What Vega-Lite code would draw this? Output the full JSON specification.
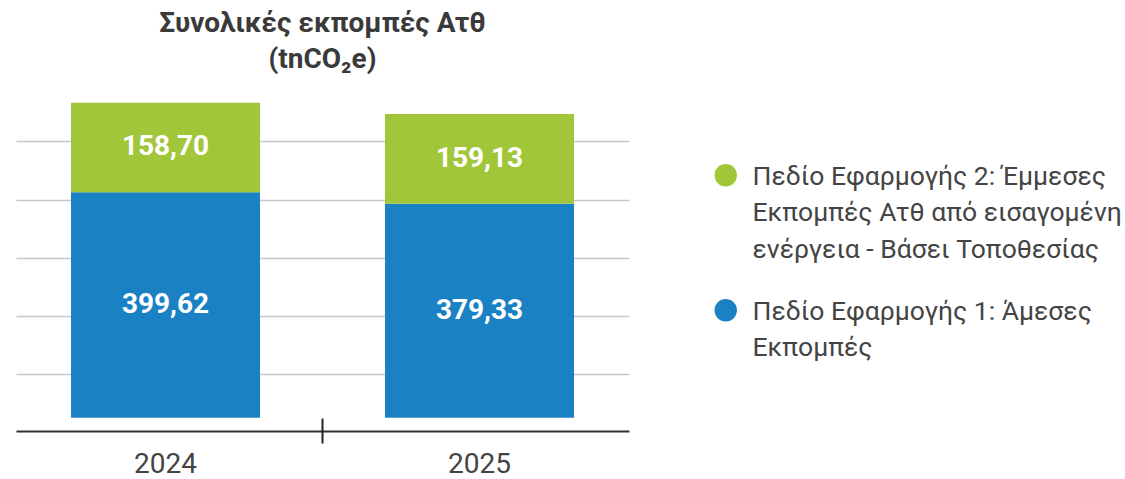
{
  "$schema": "https://vega.github.io/schema/vega-lite/v6.json",
  "autosize": "none",
  "width": 613,
  "height": 349,
  "padding": {"left": 16, "top": 82, "right": 496, "bottom": 48},
  "background": "white",
  "title": {
    "text": ["Συνολικές εκπομπές Ατθ", "(tnCO₂e)"],
    "anchor": "middle",
    "frame": "group",
    "font": "Roboto",
    "fontSize": 28,
    "fontWeight": "bold",
    "color": "#3a3a3a",
    "lineHeight": 36,
    "offset": 8
  },
  "data": {
    "values": [
      {"year": "2024", "series": "Πεδίο Εφαρμογής 1: Άμεσες\nΕκπομπές", "value": 399.62},
      {"year": "2024", "series": "Πεδίο Εφαρμογής 2: Έμμεσες\nΕκπομπές Ατθ από εισαγομένη\nενέργεια - Βάσει Τοποθεσίας", "value": 158.70},
      {"year": "2025", "series": "Πεδίο Εφαρμογής 1: Άμεσες\nΕκπομπές", "value": 379.33},
      {"year": "2025", "series": "Πεδίο Εφαρμογής 2: Έμμεσες\nΕκπομπές Ατθ από εισαγομένη\nενέργεια - Βάσει Τοποθεσίας", "value": 159.13}
    ]
  },
  "encoding": {
    "x": {
      "field": "year",
      "type": "nominal",
      "scale": {"paddingInner": 0.398, "paddingOuter": 0.1751},
      "axis": {
        "title": null,
        "domain": false,
        "offset": -13,
        "tickSize": 25,
        "tickWidth": 2,
        "tickColor": "#222222",
        "tickOpacity": {"condition": {"test": "datum.value == '2025'", "value": 0}, "value": 1},
        "bandPosition": 1.332,
        "labelAngle": 0,
        "labelPadding": 7.5,
        "labelFont": "Roboto",
        "labelFontSize": 28,
        "labelColor": "#444444"
      }
    },
    "y": {
      "field": "value",
      "type": "quantitative",
      "stack": "zero",
      "scale": {"domain": [-23.57, 595.01], "nice": false, "zero": false},
      "axis": {
        "title": null,
        "domain": false,
        "ticks": false,
        "labels": false,
        "grid": true,
        "values": [-23.57, 76.7, 179.9, 283.1, 386.2, 489.6],
        "gridColor": {"condition": {"test": "datum.value < 0", "value": "#333333"}, "value": "#c8c8c8"},
        "gridWidth": {"condition": {"test": "datum.value < 0", "value": 2}, "value": 1.5}
      }
    },
    "order": {"field": "series", "sort": "ascending"}
  },
  "layer": [
    {
      "mark": {"type": "bar"},
      "encoding": {
        "color": {
          "field": "series",
          "type": "nominal",
          "scale": {
            "domain": [
              "Πεδίο Εφαρμογής 2: Έμμεσες\nΕκπομπές Ατθ από εισαγομένη\nενέργεια - Βάσει Τοποθεσίας",
              "Πεδίο Εφαρμογής 1: Άμεσες\nΕκπομπές"
            ],
            "range": ["#a2c63a", "#1a81c5"]
          },
          "legend": {
            "title": null,
            "orient": "none",
            "legendX": 696.5,
            "legendY": 80,
            "padding": 0,
            "symbolType": "circle",
            "symbolSize": 500,
            "symbolStrokeWidth": 0,
            "symbolOpacity": 1,
            "labelFont": "Roboto",
            "labelFontSize": 26.5,
            "labelColor": "#444444",
            "labelLimit": 0,
            "labelOffset": 13.5,
            "labelBaseline": "alphabetic",
            "rowPadding": 33,
            "labelExpr": "split(datum.label, '\\n')",
            "encode": {
              "labels": {"update": {"lineHeight": {"value": 36.7}, "dy": {"value": 9.5}}}
            }
          }
        }
      }
    },
    {
      "mark": {"type": "text", "color": "white", "font": "Roboto", "fontWeight": "bold", "fontSize": 28, "baseline": "middle"},
      "encoding": {
        "y": {"field": "value", "type": "quantitative", "stack": "zero", "bandPosition": 0.5},
        "text": {"field": "value", "type": "quantitative", "format": ".2f"}
      }
    }
  ],
  "config": {
    "view": {"stroke": null},
    "locale": {"number": {"decimal": ",", "thousands": ".", "grouping": [3], "currency": ["", " €"]}}
  }
}
